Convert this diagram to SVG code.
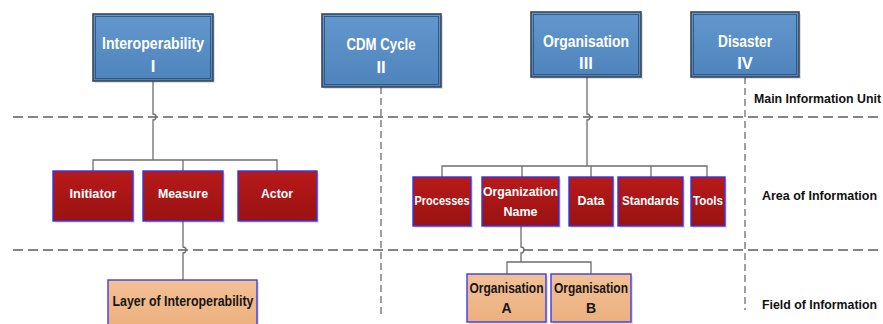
<svg xmlns="http://www.w3.org/2000/svg" width="883" height="324" viewBox="0 0 883 324">
  <defs>
    <linearGradient id="gBlue" x1="0" y1="0" x2="0" y2="1">
      <stop offset="0" stop-color="#6398cf"/>
      <stop offset="1" stop-color="#4f83bb"/>
    </linearGradient>
    <linearGradient id="gRed" x1="0" y1="0" x2="0" y2="1">
      <stop offset="0" stop-color="#b81a1a"/>
      <stop offset="1" stop-color="#9a1212"/>
    </linearGradient>
    <linearGradient id="gOrange" x1="0" y1="0" x2="0" y2="1">
      <stop offset="0" stop-color="#f3c096"/>
      <stop offset="1" stop-color="#ecb07e"/>
    </linearGradient>
  </defs>
  <style>
    .shadow { fill: #000; opacity: 0.12; }
    .top { fill: url(#gBlue); stroke: #3a4656; stroke-width: 1.6; }
    .topin { fill: none; stroke: #2f4d72; stroke-width: 0.8; }
    .mid { fill: url(#gRed); stroke: #3434e6; stroke-width: 1.4; }
    .low { fill: url(#gOrange); stroke: #3c3ce6; stroke-width: 1.4; }
    .tw { font-family: "Liberation Sans", Arial, sans-serif; font-weight: bold; fill: #ffffff; text-anchor: middle; }
    .tb { font-family: "Liberation Sans", Arial, sans-serif; font-weight: bold; fill: #161616; text-anchor: middle; }
    .lab { font-family: "Liberation Sans", Arial, sans-serif; font-weight: bold; fill: #111111; font-size: 12px; }
    .conn { fill: none; stroke: #6e6e6e; stroke-width: 1.3; }
    .dash { fill: none; stroke: #858585; stroke-width: 2; stroke-dasharray: 10 5; }
    .vdash { fill: none; stroke: #6e6e6e; stroke-width: 1.3; stroke-dasharray: 7 4; }
  </style>

  <!-- layer separators -->
  <g id="separators">
    <path class="dash" d="M13,117 H883"/>
    <path class="dash" d="M13,250 H883"/>
  </g>

  <!-- tree connectors -->
  <g id="connectors">
    <path class="conn" d="M153,81 V114 a3,3 0 0 1 0,6 V160"/>
    <path class="conn" d="M93,171 V160 H277 V171 M183,160 V171"/>
    <path class="conn" d="M587,77 V114 a3,3 0 0 1 0,6 V166"/>
    <path class="conn" d="M442,177 V166 H707 V177 M522,166 V177 M591,166 V177 M651,166 V177"/>
    <path class="conn" d="M183,221 V247 a3,3 0 0 1 0,6 V280"/>
    <path class="conn" d="M521,226 V247 a3,3 0 0 1 0,6 V262 M507,274 V262 H591 V274"/>
    <path class="vdash" d="M381,87 V316"/>
    <path class="vdash" d="M745,77 V310"/>
  </g>

  <!-- main information units -->
  <g id="interoperability">
    <rect class="shadow" x="95" y="16" width="120" height="67"/>
    <rect class="top" x="93" y="14" width="120" height="67"/>
    <rect class="topin" x="95.5" y="16.5" width="115" height="62"/>
    <text class="tw" x="153" y="49" font-size="16.5" textLength="102" lengthAdjust="spacingAndGlyphs">Interoperability</text>
    <text class="tw" x="153" y="72" font-size="16.5">I</text>
  </g>
  <g id="cdm-cycle">
    <rect class="shadow" x="324" y="16" width="119" height="73"/>
    <rect class="top" x="322" y="14" width="119" height="73"/>
    <rect class="topin" x="324.5" y="16.5" width="114" height="68"/>
    <text class="tw" x="381" y="50" font-size="16.5" textLength="69" lengthAdjust="spacingAndGlyphs">CDM Cycle</text>
    <text class="tw" x="381" y="73" font-size="16.5">II</text>
  </g>
  <g id="organisation">
    <rect class="shadow" x="533" y="14" width="110" height="65"/>
    <rect class="top" x="531" y="12" width="110" height="65"/>
    <rect class="topin" x="533.5" y="14.5" width="105" height="60"/>
    <text class="tw" x="586" y="47" font-size="16.5" textLength="86" lengthAdjust="spacingAndGlyphs">Organisation</text>
    <text class="tw" x="586" y="69" font-size="16.5">III</text>
  </g>
  <g id="disaster">
    <rect class="shadow" x="693" y="14" width="108" height="65"/>
    <rect class="top" x="691" y="12" width="108" height="65"/>
    <rect class="topin" x="693.5" y="14.5" width="103" height="60"/>
    <text class="tw" x="745" y="47" font-size="16.5" textLength="54" lengthAdjust="spacingAndGlyphs">Disaster</text>
    <text class="tw" x="745" y="69" font-size="16.5">IV</text>
  </g>

  <!-- areas of information -->
  <g id="initiator">
    <rect class="shadow" x="55" y="173" width="80" height="50"/>
    <rect class="mid" x="53" y="171" width="80" height="50"/>
    <text class="tw" x="93" y="198" font-size="13.5" textLength="47" lengthAdjust="spacingAndGlyphs">Initiator</text>
  </g>
  <g id="measure">
    <rect class="shadow" x="145" y="173" width="80" height="50"/>
    <rect class="mid" x="143" y="171" width="80" height="50"/>
    <text class="tw" x="183" y="198" font-size="13.5" textLength="50" lengthAdjust="spacingAndGlyphs">Measure</text>
  </g>
  <g id="actor">
    <rect class="shadow" x="240" y="173" width="79" height="50"/>
    <rect class="mid" x="238" y="171" width="79" height="50"/>
    <text class="tw" x="277" y="198" font-size="13.5" textLength="32" lengthAdjust="spacingAndGlyphs">Actor</text>
  </g>
  <g id="processes">
    <rect class="shadow" x="415" y="179" width="58" height="49"/>
    <rect class="mid" x="413" y="177" width="58" height="49"/>
    <text class="tw" x="442" y="205" font-size="13.5" textLength="55" lengthAdjust="spacingAndGlyphs">Processes</text>
  </g>
  <g id="organization-name">
    <rect class="shadow" x="484" y="179" width="77" height="49"/>
    <rect class="mid" x="482" y="177" width="77" height="49"/>
    <text class="tw" x="520.5" y="196" font-size="13.5" textLength="75" lengthAdjust="spacingAndGlyphs">Organization</text>
    <text class="tw" x="520.5" y="216" font-size="13.5" textLength="34" lengthAdjust="spacingAndGlyphs">Name</text>
  </g>
  <g id="data">
    <rect class="shadow" x="571" y="179" width="44" height="49"/>
    <rect class="mid" x="569" y="177" width="44" height="49"/>
    <text class="tw" x="591" y="205" font-size="13.5" textLength="27" lengthAdjust="spacingAndGlyphs">Data</text>
  </g>
  <g id="standards">
    <rect class="shadow" x="620" y="179" width="65" height="49"/>
    <rect class="mid" x="618" y="177" width="65" height="49"/>
    <text class="tw" x="650.5" y="205" font-size="13.5" textLength="57" lengthAdjust="spacingAndGlyphs">Standards</text>
  </g>
  <g id="tools">
    <rect class="shadow" x="693" y="179" width="34" height="49"/>
    <rect class="mid" x="691" y="177" width="34" height="49"/>
    <text class="tw" x="708" y="205" font-size="13.5" textLength="30" lengthAdjust="spacingAndGlyphs">Tools</text>
  </g>

  <!-- fields of information -->
  <g id="layer-of-interoperability">
    <rect class="shadow" x="110" y="282" width="149" height="46"/>
    <rect class="low" x="108" y="280" width="149" height="46"/>
    <text class="tb" x="183" y="306" font-size="14" textLength="141" lengthAdjust="spacingAndGlyphs">Layer of Interoperability</text>
  </g>
  <g id="organisation-a">
    <rect class="shadow" x="469" y="276" width="79" height="48"/>
    <rect class="low" x="467" y="274" width="79" height="48"/>
    <text class="tb" x="506.5" y="293" font-size="14" textLength="74" lengthAdjust="spacingAndGlyphs">Organisation</text>
    <text class="tb" x="506.5" y="313" font-size="14">A</text>
  </g>
  <g id="organisation-b">
    <rect class="shadow" x="553" y="276" width="80" height="48"/>
    <rect class="low" x="551" y="274" width="80" height="48"/>
    <text class="tb" x="591" y="293" font-size="14" textLength="74" lengthAdjust="spacingAndGlyphs">Organisation</text>
    <text class="tb" x="591" y="313" font-size="14">B</text>
  </g>

  <!-- level labels -->
  <g id="labels">
    <text class="lab" x="754" y="103" textLength="127" lengthAdjust="spacingAndGlyphs">Main Information Unit</text>
    <text class="lab" x="762" y="200" textLength="115" lengthAdjust="spacingAndGlyphs">Area of Information</text>
    <text class="lab" x="762" y="309" textLength="115" lengthAdjust="spacingAndGlyphs">Field of Information</text>
  </g>
</svg>
